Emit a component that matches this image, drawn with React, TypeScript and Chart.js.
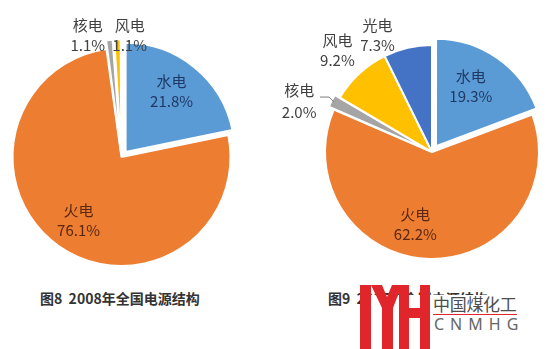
import React, { useEffect, useRef } from "react";
import { Chart, registerables } from "chart.js";

Chart.register(...registerables);

// ---- Data: 2008 ----
const categories2008 = ["水电", "火电", "核电", "风电"];
const values2008 = [21.8, 76.1, 1.1, 1.1];
const colors2008 = ["#5B9BD5", "#ED7D31", "#A5A5A5", "#FFC000"];
const offsets2008 = [26, 0, 18, 18];
const labelShift2008 = [-2, -1, -9.5, 5.8];
const labelFactor2008 = [0.76, 0.7, 1.16, 1.12];
const labelColors2008 = ["#1F3864", "#5A2813", "#404040", "#404040"];

// ---- Data: 2017 ----
const categories2017 = ["水电", "火电", "核电", "风电", "光电"];
const values2017 = [19.3, 62.2, 2.0, 9.2, 7.3];
const colors2017 = ["#5B9BD5", "#ED7D31", "#A5A5A5", "#FFC000", "#4472C4"];
const offsets2017 = [28, 0, 12, 0, 0];
const labelShift2017 = [-4, 11.6, -6, 0, -12];
const labelFactor2017 = [0.71, 0.69, 1.33, 1.3, 1.2];
const labelColors2017 = ["#1F3864", "#5A2813", "#404040", "#404040", "#404040"];
const leader2017 = [2];

const caption2008 = "图8  2008年全国电源结构";
const caption2017 = "图9  2017年全国电源结构";

const FONT = "'Noto Sans CJK SC', 'Noto Sans', sans-serif";

const labelPlugin = {
  id: "sliceLabels",
  afterDatasetsDraw(chart: any, _args: any, opts: any) {
    const meta = chart.getDatasetMeta(0);
    const ctx = chart.ctx;
    const cats = chart.data.labels;
    const vals = chart.data.datasets[0].data;
    ctx.save();
    meta.data.forEach((arc: any, i: number) => {
      const p = arc.getProps(["x", "y", "startAngle", "endAngle", "outerRadius"], true);
      const baseMid = (p.startAngle + p.endAngle) / 2;
      const mid = baseMid + (opts.shift[i] * Math.PI) / 180;
      const r = p.outerRadius * opts.factor[i];
      const cx = p.x + Math.cos(mid) * r;
      const cy = p.y + Math.sin(mid) * r;
      ctx.fillStyle = opts.colors[i];
      ctx.font = "15px " + FONT;
      ctx.textAlign = "center";
      ctx.textBaseline = "middle";
      const gap = opts.leader && opts.leader.includes(i) ? 11 : 10;
      ctx.fillText(cats[i], cx, cy - gap);
      ctx.fillText(Number(vals[i]).toFixed(1) + "%", cx, cy + gap);
      if (opts.leader && opts.leader.includes(i)) {
        const ex = p.x + Math.cos(baseMid) * (p.outerRadius + 3);
        const ey = p.y + Math.sin(baseMid) * (p.outerRadius + 3);
        ctx.strokeStyle = "#7f7f7f";
        ctx.lineWidth = 1;
        ctx.beginPath();
        ctx.moveTo(ex, ey);
        ctx.lineTo(ex - 5, ey - 5);
        ctx.lineTo(ex - 14, ey - 5);
        ctx.stroke();
      }
    });
    ctx.restore();
  },
};

function PieChart(props: any) {
  const ref = useRef<HTMLCanvasElement>(null);
  useEffect(() => {
    const chart = new Chart(ref.current as HTMLCanvasElement, {
      type: "pie",
      data: {
        labels: props.labels,
        datasets: [
          {
            data: props.values,
            backgroundColor: props.colors,
            borderColor: "#ffffff",
            borderWidth: 2,
            offset: props.offsets,
          } as any,
        ],
      },
      options: {
        responsive: false,
        animation: false,
        radius: props.radius,
        layout: { padding: props.padding },
        events: [],
        plugins: {
          legend: { display: false },
          tooltip: { enabled: false },
          sliceLabels: props.labelOpts,
        } as any,
      } as any,
      plugins: [labelPlugin as any],
    });
    return () => chart.destroy();
  }, []);
  return (
    <canvas
      ref={ref}
      width={props.width}
      height={props.height}
      style={{ position: "absolute", left: props.left, top: props.top, width: props.width, height: props.height }}
    />
  );
}

export default function App() {
  return (
    <div
      style={{
        position: "fixed",
        left: 0,
        top: 0,
        width: 551,
        height: 349,
        background: "#ffffff",
        overflow: "hidden",
        fontFamily: FONT,
      }}
    >
      <PieChart
        labels={categories2008}
        values={values2008}
        colors={colors2008}
        offsets={offsets2008}
        radius={109}
        padding={{ left: 0, right: 32, top: 34, bottom: 0 }}
        width={275}
        height={280}
        left={0}
        top={0}
        labelOpts={{ shift: labelShift2008, factor: labelFactor2008, colors: labelColors2008 }}
      />
      <PieChart
        labels={categories2017}
        values={values2017}
        colors={colors2017}
        offsets={offsets2017}
        radius={107}
        padding={{ left: 38, right: 0, top: 24, bottom: 0 }}
        width={276}
        height={280}
        left={275}
        top={0}
        labelOpts={{ shift: labelShift2017, factor: labelFactor2017, colors: labelColors2017, leader: leader2017 }}
      />
      <div
        style={{
          position: "absolute",
          left: 40,
          top: 289,
          fontSize: 14,
          lineHeight: "18px",
          fontWeight: "bold",
          color: "#333333",
          whiteSpace: "pre",
        }}
      >
        {caption2008}
      </div>
      <div
        style={{
          position: "absolute",
          left: 328,
          top: 289,
          fontSize: 14,
          lineHeight: "18px",
          fontWeight: "bold",
          color: "#333333",
          whiteSpace: "pre",
        }}
      >
        {caption2017}
      </div>
      {/* watermark logo */}
      <div style={{ position: "absolute", left: 370, top: 295, width: 181, height: 54, background: "#ffffff" }} />
      <svg
        width={76}
        height={66}
        viewBox="0 0 76 66"
        style={{ position: "absolute", left: 357, top: 284 }}
      >
        <rect x={3} y={1} width={11} height={65} fill="#E0262B" />
        <polygon points="14,1 25,1 30,13 35,1 45,1 36,24 36,66 25,66 25,24" fill="#E0262B" />
        <rect x={42} y={1} width={10} height={65} fill="#E0262B" />
        <rect x={63} y={1} width={10} height={65} fill="#E0262B" />
        <rect x={52} y={24} width={11} height={10} fill="#E0262B" />
      </svg>
      <div
        style={{
          position: "absolute",
          left: 433,
          top: 293,
          fontSize: 17,
          lineHeight: "22px",
          color: "#4d4d4d",
          letterSpacing: -0.3,
          whiteSpace: "pre",
        }}
      >
        中国煤化工
      </div>
      <div style={{ position: "absolute", left: 433, top: 314, width: 84, height: 1, background: "#E0262B" }} />
      <div
        style={{
          position: "absolute",
          left: 434,
          top: 313,
          fontSize: 16,
          lineHeight: "22px",
          color: "#666666",
          letterSpacing: 6,
          whiteSpace: "pre",
          fontFamily: "'Noto Sans', sans-serif",
        }}
      >
        CNMHG
      </div>
    </div>
  );
}
